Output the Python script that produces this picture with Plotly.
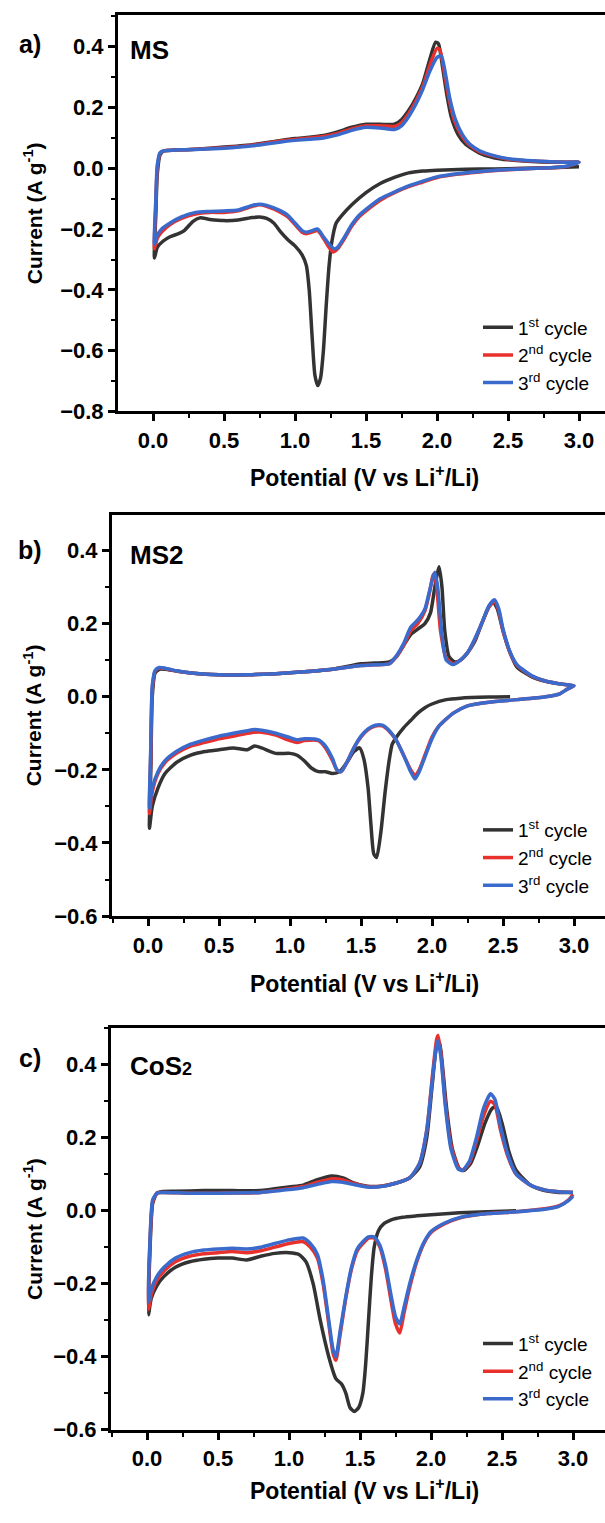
import plotly.graph_objects as go

W, H = 605, 1523

# ---------------- Panel a: MS ----------------
MS_C1_V = [3.0, 2.8, 2.6, 2.4, 2.2, 2.0, 1.9, 1.8, 1.7, 1.6, 1.5, 1.4, 1.33, 1.29, 1.26, 1.24, 1.22, 1.20, 1.18, 1.16, 1.14, 1.12, 1.10, 1.08, 1.05, 1.0, 0.95, 0.9, 0.85, 0.8, 0.75, 0.7, 0.6, 0.5, 0.4, 0.33, 0.28, 0.22, 0.18, 0.12, 0.07, 0.03, 0.01,
           0.02, 0.03, 0.05, 0.08, 0.15, 0.3, 0.5, 0.7, 0.9, 1.0, 1.1, 1.2, 1.3, 1.4, 1.5, 1.6, 1.7, 1.75, 1.8, 1.85, 1.9, 1.95, 1.99, 2.01, 2.04, 2.07, 2.1, 2.15, 2.2, 2.3, 2.4, 2.5, 2.7, 2.9, 3.0]
MS_C1_I = [0.005, 0.002, 0.0, -0.002, -0.003, -0.006, -0.009, -0.015, -0.03, -0.05, -0.08, -0.12, -0.155, -0.18, -0.24, -0.32, -0.45, -0.6, -0.69, -0.715, -0.68, -0.55, -0.4, -0.32, -0.285, -0.255, -0.235, -0.21, -0.18, -0.165, -0.16, -0.162, -0.17, -0.172, -0.168, -0.163, -0.175, -0.205, -0.215, -0.225, -0.24, -0.26, -0.295,
           -0.15, -0.02, 0.045, 0.058, 0.06, 0.063, 0.07, 0.078, 0.092, 0.098, 0.102, 0.108, 0.12, 0.135, 0.145, 0.145, 0.145, 0.16, 0.19, 0.23, 0.28, 0.36, 0.415, 0.41, 0.33, 0.24, 0.17, 0.11, 0.08, 0.05, 0.035, 0.028, 0.022, 0.02, 0.02]
MS_C2_V = [3.0, 2.9, 2.7, 2.5, 2.3, 2.1, 2.0, 1.9, 1.8, 1.7, 1.6, 1.5, 1.45, 1.4, 1.35, 1.3, 1.27, 1.24, 1.2, 1.16, 1.12, 1.08, 1.05, 1.0, 0.95, 0.9, 0.8, 0.75, 0.7, 0.6, 0.5, 0.4, 0.3, 0.2, 0.12, 0.06, 0.03, 0.01,
           0.02, 0.03, 0.05, 0.08, 0.15, 0.3, 0.5, 0.7, 0.9, 1.0, 1.1, 1.2, 1.3, 1.4, 1.5, 1.6, 1.7, 1.75, 1.8, 1.85, 1.9, 1.95, 2.0, 2.02, 2.05, 2.08, 2.12, 2.17, 2.22, 2.3, 2.4, 2.5, 2.7, 2.9, 3.0]
MS_C2_I = [0.02, 0.005, 0.0, -0.005, -0.012, -0.022, -0.03, -0.045, -0.06, -0.08, -0.105, -0.14, -0.16, -0.19, -0.23, -0.265, -0.275, -0.26, -0.23, -0.205, -0.21, -0.215, -0.21, -0.185, -0.16, -0.145, -0.125, -0.12, -0.125, -0.14, -0.145, -0.145, -0.15, -0.165, -0.185, -0.21, -0.23, -0.265,
           -0.12, 0.0, 0.05, 0.058, 0.06, 0.063, 0.068, 0.076, 0.09, 0.095, 0.1, 0.105, 0.115, 0.13, 0.14, 0.14, 0.138, 0.15, 0.18, 0.22, 0.27, 0.34, 0.395, 0.39, 0.32, 0.24, 0.16, 0.11, 0.08, 0.055, 0.04, 0.03, 0.023, 0.02, 0.02]
MS_C3_V = [3.0, 2.9, 2.7, 2.5, 2.3, 2.1, 2.0, 1.9, 1.8, 1.7, 1.6, 1.5, 1.45, 1.4, 1.35, 1.3, 1.28, 1.25, 1.2, 1.16, 1.12, 1.08, 1.05, 1.0, 0.95, 0.9, 0.8, 0.75, 0.7, 0.6, 0.5, 0.4, 0.3, 0.2, 0.12, 0.06, 0.03, 0.01,
           0.02, 0.03, 0.05, 0.08, 0.15, 0.3, 0.5, 0.7, 0.9, 1.0, 1.1, 1.2, 1.3, 1.4, 1.5, 1.6, 1.7, 1.75, 1.8, 1.85, 1.9, 1.95, 2.0, 2.03, 2.06, 2.09, 2.13, 2.18, 2.23, 2.3, 2.4, 2.5, 2.7, 2.9, 3.0]
MS_C3_I = [0.02, 0.006, 0.0, -0.004, -0.01, -0.02, -0.028, -0.042, -0.058, -0.078, -0.1, -0.135, -0.155, -0.185, -0.225, -0.26, -0.265, -0.255, -0.225, -0.2, -0.205, -0.21, -0.205, -0.18, -0.155, -0.14, -0.122, -0.118, -0.122, -0.137, -0.14, -0.142, -0.145, -0.16, -0.18, -0.2, -0.22, -0.25,
           -0.1, 0.01, 0.052, 0.058, 0.06, 0.062, 0.066, 0.074, 0.087, 0.092, 0.096, 0.1, 0.11, 0.125, 0.135, 0.133, 0.128, 0.14, 0.17, 0.21, 0.26, 0.32, 0.365, 0.37, 0.31, 0.23, 0.16, 0.11, 0.08, 0.058, 0.042, 0.032, 0.024, 0.02, 0.02]

# ---------------- Panel b: MS2 ----------------
MS2_C1_V = [2.55, 2.4, 2.2, 2.1, 2.0, 1.95, 1.9, 1.85, 1.8, 1.75, 1.72, 1.7, 1.67, 1.64, 1.61, 1.59, 1.57, 1.55, 1.52, 1.49, 1.45, 1.4, 1.35, 1.3, 1.25, 1.2, 1.15, 1.1, 1.05, 1.0, 0.9, 0.8, 0.75, 0.7, 0.6, 0.5, 0.4, 0.3, 0.2, 0.12, 0.07, 0.03, 0.01,
            0.02, 0.03, 0.05, 0.08, 0.12, 0.2, 0.3, 0.5, 0.7, 0.9, 1.1, 1.3, 1.5, 1.6, 1.7, 1.75, 1.8, 1.85, 1.9, 1.95, 1.99, 2.02, 2.05, 2.07, 2.09, 2.12, 2.16, 2.2, 2.25, 2.3, 2.35, 2.4, 2.43, 2.46, 2.5, 2.55, 2.6, 2.7, 2.8, 2.9, 3.0]
MS2_C1_I = [0.0, -0.001, -0.004, -0.008, -0.02, -0.03, -0.045, -0.065, -0.085, -0.11, -0.13, -0.17, -0.26, -0.37, -0.44, -0.43, -0.35, -0.25, -0.17, -0.14, -0.15, -0.18, -0.205, -0.21, -0.205, -0.205, -0.195, -0.175, -0.16, -0.155, -0.155, -0.14, -0.135, -0.145, -0.14, -0.145, -0.15, -0.16, -0.18, -0.21, -0.25, -0.3, -0.36,
            -0.2, 0.0, 0.065, 0.075, 0.075, 0.07, 0.065, 0.06, 0.06, 0.063, 0.068, 0.075, 0.09, 0.092, 0.095, 0.11, 0.14, 0.17, 0.185, 0.2, 0.23, 0.3, 0.355, 0.3, 0.18, 0.11, 0.095, 0.1, 0.12, 0.15, 0.2, 0.245, 0.26, 0.24, 0.18, 0.12, 0.08, 0.055, 0.042, 0.035, 0.03]
MS2_C2_V = [3.0, 2.95, 2.9, 2.8, 2.6, 2.4, 2.25, 2.15, 2.05, 2.0, 1.95, 1.91, 1.88, 1.85, 1.8, 1.75, 1.7, 1.65, 1.6, 1.55, 1.5, 1.45, 1.4, 1.36, 1.33, 1.3, 1.25, 1.2, 1.1, 1.05, 1.0, 0.9, 0.8, 0.75, 0.7, 0.6, 0.5, 0.4, 0.3, 0.2, 0.12, 0.07, 0.03, 0.01,
            0.02, 0.03, 0.05, 0.08, 0.12, 0.2, 0.3, 0.5, 0.7, 0.9, 1.1, 1.3, 1.5, 1.6, 1.7, 1.75, 1.8, 1.85, 1.9, 1.95, 1.98, 2.01, 2.03, 2.06, 2.1, 2.15, 2.2, 2.25, 2.3, 2.35, 2.4, 2.44, 2.47, 2.5, 2.55, 2.6, 2.7, 2.8, 2.9, 3.0]
MS2_C2_I = [0.03, 0.02, 0.008, 0.0, -0.008, -0.015, -0.025, -0.045, -0.08, -0.11, -0.16, -0.2, -0.215, -0.2, -0.16, -0.12, -0.095, -0.08, -0.08, -0.09, -0.11, -0.14, -0.18, -0.205, -0.2, -0.175, -0.14, -0.12, -0.12, -0.125, -0.12, -0.105, -0.097, -0.097, -0.1, -0.108, -0.115, -0.125, -0.135, -0.155, -0.18, -0.21, -0.26, -0.32,
            -0.15, 0.02, 0.07, 0.078, 0.077, 0.07, 0.065, 0.06, 0.06, 0.063, 0.068, 0.075, 0.085, 0.087, 0.09, 0.11, 0.14, 0.18, 0.2, 0.235, 0.28, 0.335, 0.31, 0.18, 0.105, 0.09, 0.1, 0.12, 0.155, 0.2, 0.245, 0.26, 0.235, 0.18, 0.12, 0.085, 0.057, 0.043, 0.035, 0.03]
MS2_C3_V = [3.0, 2.95, 2.9, 2.8, 2.6, 2.4, 2.25, 2.15, 2.05, 2.0, 1.95, 1.91, 1.88, 1.85, 1.8, 1.75, 1.7, 1.65, 1.6, 1.55, 1.5, 1.45, 1.4, 1.36, 1.33, 1.3, 1.25, 1.2, 1.1, 1.05, 1.0, 0.9, 0.8, 0.75, 0.7, 0.6, 0.5, 0.4, 0.3, 0.2, 0.12, 0.07, 0.03, 0.01,
            0.02, 0.03, 0.05, 0.08, 0.12, 0.2, 0.3, 0.5, 0.7, 0.9, 1.1, 1.3, 1.5, 1.6, 1.7, 1.75, 1.8, 1.85, 1.9, 1.95, 1.98, 2.02, 2.04, 2.07, 2.1, 2.15, 2.2, 2.25, 2.3, 2.35, 2.4, 2.44, 2.47, 2.5, 2.55, 2.6, 2.7, 2.8, 2.9, 3.0]
MS2_C3_I = [0.03, 0.02, 0.008, 0.0, -0.008, -0.015, -0.025, -0.045, -0.08, -0.115, -0.165, -0.205, -0.225, -0.205, -0.16, -0.12, -0.093, -0.078, -0.078, -0.088, -0.108, -0.14, -0.18, -0.205, -0.2, -0.17, -0.135, -0.118, -0.115, -0.118, -0.112, -0.1, -0.092, -0.09, -0.093, -0.1, -0.108, -0.118, -0.13, -0.15, -0.175, -0.205, -0.25, -0.305,
            -0.13, 0.03, 0.072, 0.08, 0.078, 0.071, 0.065, 0.06, 0.06, 0.063, 0.068, 0.075, 0.085, 0.087, 0.09, 0.112, 0.145, 0.19, 0.21, 0.24, 0.285, 0.34, 0.3, 0.17, 0.1, 0.088, 0.1, 0.12, 0.157, 0.2, 0.248, 0.265, 0.24, 0.185, 0.122, 0.087, 0.058, 0.043, 0.035, 0.03]

# ---------------- Panel c: CoS2 ----------------
COS_C1_V = [2.6, 2.4, 2.2, 2.0, 1.9, 1.8, 1.72, 1.67, 1.63, 1.6, 1.58, 1.56, 1.54, 1.52, 1.49, 1.46, 1.43, 1.4, 1.37, 1.33, 1.28, 1.22, 1.17, 1.12, 1.07, 1.0, 0.9, 0.8, 0.7, 0.6, 0.5, 0.4, 0.3, 0.2, 0.12, 0.07, 0.03, 0.01,
            0.02, 0.04, 0.07, 0.1, 0.2, 0.4, 0.6, 0.8, 1.0, 1.1, 1.2, 1.3, 1.38, 1.45, 1.55, 1.65, 1.75, 1.85, 1.92, 1.97, 2.01, 2.04, 2.06, 2.08, 2.11, 2.15, 2.2, 2.23, 2.28, 2.33, 2.38, 2.43, 2.46, 2.5, 2.55, 2.6, 2.7, 2.8, 2.9, 3.0]
COS_C1_I = [0.0, -0.003, -0.006, -0.011, -0.014, -0.018, -0.025, -0.035, -0.055, -0.1, -0.18, -0.3, -0.42, -0.5, -0.54, -0.55, -0.54, -0.5, -0.475, -0.46, -0.4, -0.3, -0.2, -0.14, -0.12, -0.115, -0.117, -0.125, -0.135, -0.13, -0.13, -0.133, -0.14, -0.155, -0.18, -0.205, -0.24, -0.285,
            -0.12, 0.02, 0.048, 0.052, 0.053, 0.055, 0.055, 0.055, 0.065, 0.07, 0.085, 0.095, 0.09, 0.077, 0.067, 0.067, 0.075, 0.09, 0.12, 0.2, 0.35, 0.45, 0.46, 0.4, 0.28, 0.17, 0.115, 0.11, 0.13, 0.18, 0.24, 0.28, 0.285, 0.24, 0.16, 0.11, 0.07, 0.055, 0.05, 0.05]
COS_C2_V = [3.0, 2.97, 2.9, 2.8, 2.6, 2.4, 2.2, 2.1, 2.0, 1.95, 1.9, 1.85, 1.81, 1.78, 1.75, 1.72, 1.68, 1.64, 1.6, 1.56, 1.52, 1.48, 1.44, 1.4, 1.36, 1.33, 1.31, 1.28, 1.24, 1.2, 1.15, 1.1, 1.0, 0.9, 0.8, 0.7, 0.6, 0.5, 0.4, 0.3, 0.2, 0.12, 0.07, 0.03, 0.01,
            0.02, 0.04, 0.07, 0.1, 0.3, 0.5, 0.8, 1.0, 1.1, 1.2, 1.3, 1.38, 1.45, 1.55, 1.65, 1.75, 1.85, 1.92, 1.97, 2.01, 2.04, 2.05, 2.07, 2.1, 2.14, 2.19, 2.22, 2.27, 2.32, 2.37, 2.42, 2.45, 2.49, 2.54, 2.6, 2.7, 2.8, 2.9, 3.0]
COS_C2_I = [0.045, 0.03, 0.013, 0.005, -0.003, -0.008, -0.02, -0.035, -0.06, -0.09, -0.14, -0.21, -0.28, -0.335, -0.31, -0.25, -0.16, -0.1, -0.075, -0.075, -0.09, -0.11, -0.16, -0.24, -0.34, -0.41, -0.39, -0.31, -0.2, -0.13, -0.1, -0.085, -0.09, -0.1, -0.11, -0.115, -0.112, -0.115, -0.118, -0.125, -0.14, -0.165, -0.19, -0.23, -0.27,
            -0.1, 0.025, 0.048, 0.05, 0.048, 0.048, 0.05, 0.06, 0.066, 0.078, 0.087, 0.084, 0.075, 0.066, 0.067, 0.075, 0.09, 0.13, 0.22, 0.37, 0.47, 0.48, 0.43, 0.3, 0.18, 0.12, 0.11, 0.13, 0.19, 0.26, 0.3, 0.29, 0.22, 0.15, 0.1, 0.07, 0.057, 0.052, 0.05]
COS_C3_V = [3.0, 2.97, 2.9, 2.8, 2.6, 2.4, 2.2, 2.1, 2.0, 1.95, 1.9, 1.85, 1.81, 1.78, 1.75, 1.72, 1.68, 1.64, 1.6, 1.56, 1.52, 1.48, 1.44, 1.4, 1.36, 1.33, 1.31, 1.28, 1.24, 1.2, 1.15, 1.1, 1.0, 0.9, 0.8, 0.7, 0.6, 0.5, 0.4, 0.3, 0.2, 0.12, 0.07, 0.03, 0.01,
            0.02, 0.04, 0.07, 0.1, 0.3, 0.5, 0.8, 1.0, 1.1, 1.2, 1.3, 1.38, 1.45, 1.55, 1.65, 1.75, 1.85, 1.92, 1.97, 2.01, 2.04, 2.05, 2.07, 2.1, 2.14, 2.19, 2.22, 2.27, 2.32, 2.37, 2.42, 2.45, 2.49, 2.54, 2.6, 2.7, 2.8, 2.9, 3.0]
COS_C3_I = [0.04, 0.028, 0.012, 0.004, -0.003, -0.008, -0.019, -0.033, -0.057, -0.087, -0.135, -0.2, -0.265, -0.31, -0.29, -0.235, -0.15, -0.095, -0.072, -0.072, -0.085, -0.105, -0.155, -0.235, -0.33, -0.4, -0.38, -0.3, -0.19, -0.12, -0.09, -0.075, -0.08, -0.09, -0.1, -0.105, -0.103, -0.105, -0.108, -0.115, -0.13, -0.155, -0.18, -0.215, -0.25,
            -0.09, 0.03, 0.048, 0.05, 0.048, 0.048, 0.05, 0.058, 0.063, 0.072, 0.08, 0.078, 0.072, 0.065, 0.066, 0.075, 0.09, 0.13, 0.22, 0.36, 0.455, 0.465, 0.42, 0.29, 0.17, 0.115, 0.11, 0.135, 0.2, 0.28, 0.32, 0.305, 0.23, 0.155, 0.1, 0.07, 0.057, 0.052, 0.05]

CYCLE_NAMES = ["1<sup>st</sup> cycle", "2<sup>nd</sup> cycle", "3<sup>rd</sup> cycle"]
CYCLE_COLORS = ["#333333", "#e8302c", "#3a6bcc"]
PANEL_LABELS = ["a)", "b)", "c)"]
SAMPLE_NAMES = ["MS", "MS2", "CoS<span style='font-size:18px'>2</span>"]
Y_RANGES = [[-0.8, 0.505], [-0.6, 0.498], [-0.6, 0.5]]
X_TICKS = [0.0, 0.5, 1.0, 1.5, 2.0, 2.5, 3.0]
X_TITLE = "Potential (V vs Li<sup>+</sup>/Li)"
Y_TITLE = "Current (A g<sup>-1</sup>)"

panels = [
    [(MS_C1_V, MS_C1_I), (MS_C2_V, MS_C2_I), (MS_C3_V, MS_C3_I)],
    [(MS2_C1_V, MS2_C1_I), (MS2_C2_V, MS2_C2_I), (MS2_C3_V, MS2_C3_I)],
    [(COS_C1_V, COS_C1_I), (COS_C2_V, COS_C2_I), (COS_C3_V, COS_C3_I)],
]

# pixel geometry of each panel
geo = [
    dict(left=118, top=15, bottom=415, x0=153, xt=480, lab=44, nm=50, leg=311),
    dict(left=112, top=519, bottom=924, x0=148, xt=990, lab=555, nm=560, leg=818),
    dict(left=111, top=1037, bottom=1442, x0=147, xt=1502, lab=1067, nm=1075, leg=1336),
]
PX_PER_V = 142.0

def px(v):
    return v / W

def py(v):
    return 1 - v / H

FONT = "Liberation Sans, Arial, sans-serif"
fig = go.Figure()
layout = dict(width=W, height=H, margin=dict(l=0, r=0, t=0, b=0),
              paper_bgcolor="white", plot_bgcolor="white", annotations=[])

for k, (pan, g) in enumerate(zip(panels, geo)):
    sfx = "" if k == 0 else str(k + 1)
    legname = "legend" if k == 0 else "legend" + str(k + 1)
    for j, (vv, ii) in enumerate(pan):
        fig.add_trace(go.Scatter(
            x=vv, y=ii, mode="lines", name=CYCLE_NAMES[j],
            line=dict(color=CYCLE_COLORS[j], width=3.5, shape="spline", smoothing=0.6),
            xaxis="x" + sfx, yaxis="y" + sfx, legend=legname,
        ))
    xmin = (g["left"] - g["x0"]) / PX_PER_V
    xmax = (W - g["x0"]) / PX_PER_V
    layout["xaxis" + sfx] = dict(
        domain=[px(g["left"]), 1.0], anchor="y" + sfx, range=[xmin, xmax],
        tickvals=X_TICKS, ticktext=["%.1f" % t for t in X_TICKS],
        ticks="outside", ticklen=7, tickwidth=2.5, tickcolor="black",
        minor=dict(dtick=0.25, tick0=0, ticks="outside", ticklen=4, tickwidth=2, tickcolor="black"),
        showline=True, linewidth=3, linecolor="black", mirror=True,
        showgrid=False, zeroline=False,
        tickfont=dict(family=FONT, size=22, color="black", weight="bold"),
    )
    layout["yaxis" + sfx] = dict(
        domain=[py(g["bottom"]), py(g["top"])], anchor="x" + sfx, range=Y_RANGES[k],
        dtick=0.2, tick0=0, tickformat=".1f",
        ticks="outside", ticklen=7, tickwidth=2.5, tickcolor="black",
        minor=dict(dtick=0.1, tick0=0, ticks="outside", ticklen=4, tickwidth=2, tickcolor="black"),
        showline=True, linewidth=3, linecolor="black", mirror=False,
        showgrid=False, zeroline=False,
        tickfont=dict(family=FONT, size=22, color="black", weight="bold"),
    )
    layout[legname] = dict(
        x=px(478), y=py(g["leg"]), xanchor="left", yanchor="top",
        bgcolor="rgba(0,0,0,0)", borderwidth=0, tracegroupgap=0,
        font=dict(family=FONT, size=19, color="black"),
    )
    ann = layout["annotations"]
    ann.append(dict(text="<b>" + PANEL_LABELS[k] + "</b>", x=px(30), y=py(g["lab"]), xref="paper", yref="paper",
                    showarrow=False, xanchor="center", yanchor="middle",
                    font=dict(family=FONT, size=25, color="black")))
    ann.append(dict(text="<b>" + SAMPLE_NAMES[k] + "</b>", x=px(128), y=py(g["nm"]), xref="paper", yref="paper",
                    showarrow=False, xanchor="left", yanchor="middle",
                    font=dict(family=FONT, size=26, color="black")))
    ann.append(dict(text="<b>" + Y_TITLE + "</b>", x=px(33), y=py((g["top"] + g["bottom"]) / 2),
                    xref="paper", yref="paper", showarrow=False, textangle=-90,
                    xanchor="center", yanchor="middle",
                    font=dict(family=FONT, size=21, color="black")))
    ann.append(dict(text="<b>" + X_TITLE + "</b>", x=px(364), y=py(g["xt"]),
                    xref="paper", yref="paper", showarrow=False,
                    xanchor="center", yanchor="middle",
                    font=dict(family=FONT, size=23, color="black")))

fig.update_layout(**layout)
fig.write_html("out.html")
